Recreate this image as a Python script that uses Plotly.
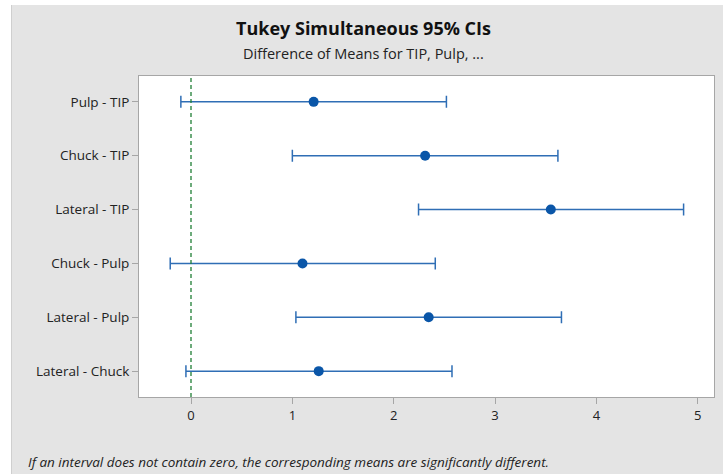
import plotly.graph_objects as go

comparisons = ["Pulp - TIP", "Chuck - TIP", "Lateral - TIP", "Chuck - Pulp", "Lateral - Pulp", "Lateral - Chuck"]
means = [1.21, 2.31, 3.55, 1.10, 2.345, 1.26]
lower = [-0.10, 1.00, 2.245, -0.205, 1.035, -0.05]
upper = [2.52, 3.62, 4.86, 2.41, 3.655, 2.575]
x_ticks = [0, 1, 2, 3, 4, 5]

W, H = 723, 474
L, R, T, B = 139, 9, 76, 77
pw, ph = W - L - R, H - T - B

def px(x):
    return (x - L) / pw

def py(y):
    return (H - B - y) / ph

ypos = list(range(len(comparisons)))
blue_line = "#2f6eb5"
blue_dot = "#0a56a8"

fig = go.Figure()
fig.add_trace(go.Scatter(
    x=means, y=ypos, mode="markers",
    marker=dict(color=blue_dot, size=10, symbol="circle"),
    error_x=dict(type="data", symmetric=False,
                 array=[u - m for u, m in zip(upper, means)],
                 arrayminus=[m - l for m, l in zip(means, lower)],
                 color=blue_line, thickness=1.5, width=6),
    showlegend=False, hoverinfo="skip",
))

fig.add_shape(type="line", xref="x", yref="paper", x0=0, x1=0, y0=0, y1=1,
              line=dict(color="#1f7f35", width=1.3, dash="4px,3px"))

# white strips outside the grey panel (left and top)
fig.add_shape(type="rect", xref="paper", yref="paper",
              x0=px(-5), x1=px(11), y0=py(H + 5), y1=py(-5),
              fillcolor="white", line=dict(width=0), layer="below")
fig.add_shape(type="rect", xref="paper", yref="paper",
              x0=px(-5), x1=px(W + 5), y0=py(5), y1=py(-5),
              fillcolor="white", line=dict(width=0), layer="below")
fig.add_shape(type="line", xref="paper", yref="paper",
              x0=px(11.5), x1=px(11.5), y0=py(H + 5), y1=py(5),
              line=dict(color="#cfcfcf", width=1), layer="below")

fig.update_layout(
    width=W, height=H,
    margin=dict(l=L, r=R, t=T, b=B),
    paper_bgcolor="#e4e4e4", plot_bgcolor="white",
    font=dict(family="Open Sans, Noto Sans, sans-serif", color="#222222", size=13),
    showlegend=False,
    xaxis=dict(range=[-0.513, 5.16], tickvals=x_ticks, ticktext=[str(t) for t in x_ticks],
               showgrid=False, zeroline=False, showline=True, linecolor="#a6a6a6", linewidth=1,
               mirror=True, ticks="outside", ticklen=6, tickcolor="#a6a6a6",
               tickfont=dict(size=13, color="#222222")),
    yaxis=dict(range=[5.48, -0.48], tickvals=ypos, ticktext=comparisons,
               showgrid=False, zeroline=False, showline=True, linecolor="#a6a6a6", linewidth=1,
               mirror=True, ticks="outside", ticklen=6, tickcolor="#a6a6a6",
               tickfont=dict(size=13.5, color="#222222")),
    annotations=[
        dict(text="<b>Tukey Simultaneous 95% CIs</b>", xref="paper", yref="paper",
             x=px(363), y=py(28), xanchor="center", yanchor="middle", showarrow=False,
             font=dict(size=18, color="#111111")),
        dict(text="Difference of Means for TIP, Pulp, ...", xref="paper", yref="paper",
             x=px(363), y=py(53), xanchor="center", yanchor="middle", showarrow=False,
             font=dict(size=14.5, color="#222222")),
        dict(text="<i>If an interval does not contain zero, the corresponding means are significantly different.</i>",
             xref="paper", yref="paper", x=px(26), y=py(462), xanchor="left", yanchor="middle",
             showarrow=False, font=dict(size=13.5, color="#222222")),
    ],
)

fig.write_html("out.html", config={"displayModeBar": False},
               post_script="document.body.style.margin='0';document.body.style.overflow='hidden';")
